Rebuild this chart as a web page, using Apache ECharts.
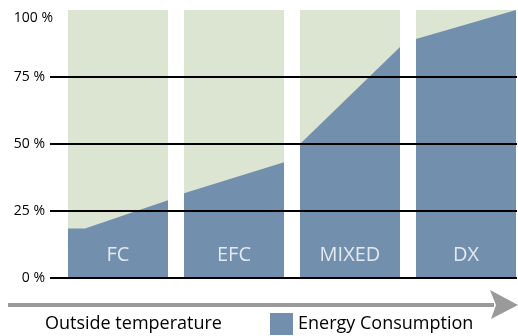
<!DOCTYPE html>
<html>
<head>
<meta charset="utf-8">
<style>
  html, body { margin: 0; padding: 0; background: #fff; }
  #chart { width: 518px; height: 336px; }
</style>
<script src="https://cdn.jsdelivr.net/npm/echarts@6/dist/echarts.min.js"></script>
</head>
<body>
<div id="chart"></div>
<script>
// Operating modes, ordered by rising outside temperature
const categories = ['FC', 'EFC', 'MIXED', 'DX'];
// Y axis tick values (percent of full load)
const yTicks = [0, 25, 50, 75, 100];
// Full capacity of each mode, in percent
const capacity = 100;
// Energy consumption within each mode: [relative temperature 0..1, percent]
const fcEnergy = [[0, 18.5], [0.17, 18.5], [1, 29]];
const efcEnergy = [[0, 31.6], [1, 43.2]];
const mixedEnergy = [[0, 50], [1, 86.2]];
const dxEnergy = [[0, 89.2], [1, 100]];
const energyByMode = [fcEnergy, efcEnergy, mixedEnergy, dxEnergy];

const FONT = '"Open Sans", "DejaVu Sans", sans-serif';
const GREEN = '#dbe5d1';
const BLUE = '#728fae';
const PANEL = 100;   // panel width in x units
const STEP = 116;    // panel pitch in x units

const series = [];
categories.forEach((name, i) => {
  const x0 = i * STEP;
  series.push({
    type: 'line', name: name + ' capacity', silent: true,
    data: [[x0, capacity], [x0 + PANEL, capacity]],
    symbol: 'none', lineStyle: { width: 0 },
    areaStyle: { color: GREEN, opacity: 1 }, z: 1
  });
  series.push({
    type: 'line', name: 'Energy Consumption', silent: true,
    data: energyByMode[i].map(p => [x0 + p[0] * PANEL, p[1]]),
    symbol: 'none', lineStyle: { width: 0 }, color: BLUE,
    areaStyle: { color: BLUE, opacity: 1 }, z: 2
  });
});
// Mode names inside each panel
series.push({
  type: 'scatter', silent: true, symbolSize: 0, z: 5,
  data: categories.map((name, i) => ({ value: [i * STEP + PANEL / 2, 8.6], name })),
  label: {
    show: true, position: 'inside', formatter: p => p.name,
    color: '#fff', fontSize: 20, fontFamily: FONT
  }
});

const chart = echarts.init(document.getElementById('chart'), null, { renderer: 'canvas' });
chart.setOption({
  animation: false,
  backgroundColor: '#fff',
  grid: { left: 50, right: 1, top: 10, bottom: 58 },
  xAxis: {
    type: 'value', min: -18, max: 449, show: false
  },
  yAxis: {
    type: 'value', min: yTicks[0], max: yTicks[yTicks.length - 1], interval: 25, z: 10,
    axisLine: { show: false }, axisTick: { show: false },
    axisLabel: {
      color: '#000', fontSize: 14, fontFamily: FONT, margin: 5,
      formatter: v => v === 100 ? '{top|100 %}' : v + ' %',
      rich: { top: { color: '#000', fontSize: 14, fontFamily: FONT, padding: [16, -8, 0, 0] } }
    },
    splitLine: {
      show: true,
      lineStyle: { width: 2, color: ['#000', '#000', '#000', '#000', 'rgba(0,0,0,0)'] }
    }
  },
  legend: {
    data: ['Energy Consumption'],
    left: 270, top: 313, padding: 0, icon: 'rect', itemWidth: 23, itemHeight: 22, itemGap: 4,
    textStyle: { color: '#000', fontSize: 18, fontFamily: FONT, padding: [5, 0, 0, 0] },
    selectedMode: false
  },
  graphic: [
    { type: 'rect', shape: { x: 8, y: 303, width: 486, height: 4 }, style: { fill: '#9a9a9a' } },
    { type: 'polygon', shape: { points: [[490, 290], [518, 305], [491, 319], [496, 305]] }, style: { fill: '#9a9a9a' } },
    { type: 'text', left: 45, top: 315, style: { text: 'Outside temperature', fill: '#000', fontSize: 18, fontFamily: FONT } }
  ],
  series
});
</script>
</body>
</html>
